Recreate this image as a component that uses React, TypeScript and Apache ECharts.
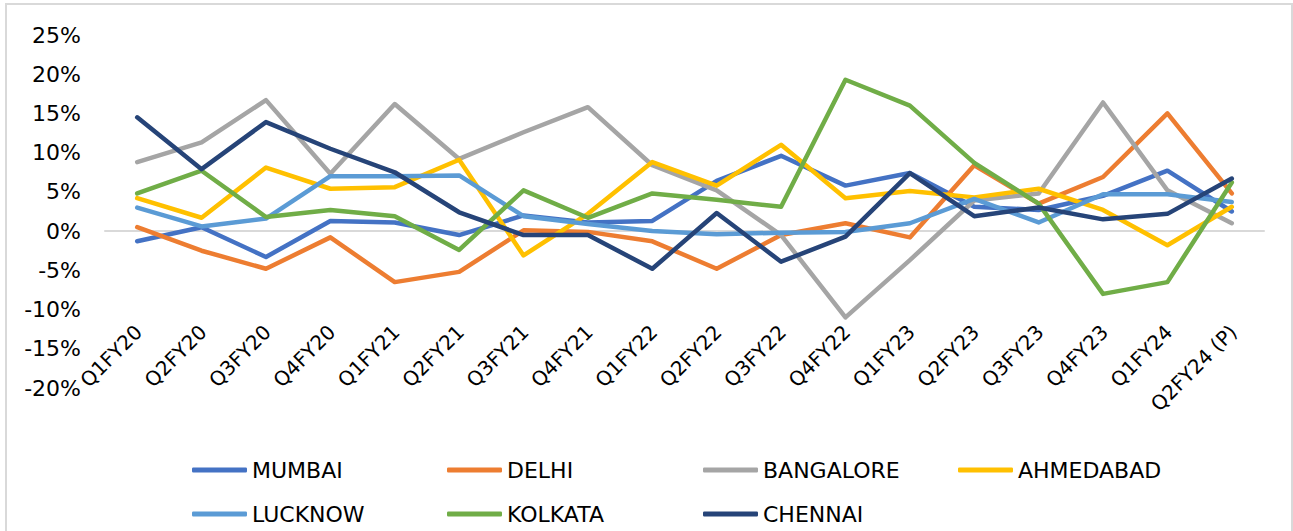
import React, { useEffect, useRef } from "react";
import * as echarts from "echarts";

const categories = [
  "Q1FY20", "Q2FY20", "Q3FY20", "Q4FY20", "Q1FY21", "Q2FY21", "Q3FY21", "Q4FY21", "Q1FY22",
  "Q2FY22", "Q3FY22", "Q4FY22", "Q1FY23", "Q2FY23", "Q3FY23", "Q4FY23", "Q1FY24", "Q2FY24 (P)",
];

const mumbai = [-1.3, 0.5, -3.3, 1.3, 1.1, -0.5, 2.0, 1.1, 1.3, 6.4, 9.6, 5.8, 7.4, 3.1, 2.7, 4.5, 7.7, 2.5];
const delhi = [0.5, -2.5, -4.8, -0.8, -6.5, -5.2, 0.1, -0.1, -1.3, -4.8, -0.5, 1.0, -0.8, 8.4, 3.5, 6.9, 15.0, 4.8];
const bangalore = [8.8, 11.3, 16.7, 7.3, 16.2, 9.2, 12.6, 15.8, 8.4, 5.2, -0.5, -11.0, -3.7, 3.9, 4.8, 16.4, 5.2, 1.0];
const ahmedabad = [4.2, 1.7, 8.1, 5.4, 5.6, 9.1, -3.1, 2.2, 8.8, 5.8, 11.0, 4.2, 5.1, 4.3, 5.4, 2.7, -1.8, 3.1];
const lucknow = [3.0, 0.6, 1.6, 7.0, 7.0, 7.1, 1.9, 0.9, 0.0, -0.4, -0.2, -0.1, 1.0, 4.1, 1.1, 4.7, 4.7, 3.7];
const kolkata = [4.8, 7.7, 1.8, 2.7, 1.9, -2.4, 5.2, 1.7, 4.8, 4.0, 3.1, 19.3, 16.0, 8.7, 3.5, -8.0, -6.5, 6.2];
const chennai = [14.5, 7.9, 13.9, 10.5, 7.5, 2.4, -0.5, -0.5, -4.8, 2.3, -3.9, -0.7, 7.4, 1.9, 3.0, 1.5, 2.2, 6.7];

const seriesNames = ["MUMBAI", "DELHI", "BANGALORE", "AHMEDABAD", "LUCKNOW", "KOLKATA", "CHENNAI"];
const seriesData = [mumbai, delhi, bangalore, ahmedabad, lucknow, kolkata, chennai];
const colors = ["#4472C4", "#ED7D31", "#A5A5A5", "#FFC000", "#5B9BD5", "#70AD47", "#264478"];

const legendPos = [
  [192, 459], [447, 459], [703, 459], [958, 459],
  [192, 503], [447, 503], [703, 503],
];

const FONT = "DejaVu Sans";

export default function App() {
  const ref = useRef<HTMLDivElement>(null);
  useEffect(() => {
    document.body.style.margin = "0";
    const chart = echarts.init(ref.current!, null, { renderer: "svg" });
    chart.setOption({
      animation: false,
      backgroundColor: "#fff",
      grid: { left: 105, right: 29, top: 35, bottom: 143, containLabel: false, outerBoundsMode: "none" },
      graphic: [
        {
          type: "rect",
          shape: { x: 6, y: 4, width: 1286, height: 540 },
          style: { fill: "none", stroke: "#d9d9d9", lineWidth: 2 },
          silent: true,
        },
      ],
      legend: seriesNames.map((n, i) => ({
        data: [n],
        left: legendPos[i][0],
        top: legendPos[i][1],
        padding: 0,
        itemWidth: 55,
        itemHeight: 5,
        icon: "roundRect",
        textStyle: { fontSize: 22, fontFamily: FONT, color: "#000" },
      })),
      xAxis: {
        type: "category",
        data: categories,
        boundaryGap: true,
        axisLine: { show: true, onZero: true, lineStyle: { color: "#d9d9d9", width: 2 } },
        axisTick: { show: false },
        axisLabel: {
          rotate: 45,
          margin: -58,
          interval: 0,
          fontSize: 20,
          fontFamily: FONT,
          color: "#000",
          padding: [0, -2, 0, 0],
        },
        splitLine: { show: false },
      },
      yAxis: {
        type: "value",
        min: -20,
        max: 25,
        interval: 5,
        axisLine: { show: false },
        axisTick: { show: false },
        splitLine: { show: false },
        axisLabel: {
          formatter: "{value}%",
          margin: 24,
          fontSize: 22,
          fontFamily: FONT,
          color: "#000",
        },
      },
      series: seriesNames.map((n, i) => ({
        name: n,
        type: "line",
        data: seriesData[i],
        symbol: "none",
        color: colors[i],
        lineStyle: { width: 4.5, color: colors[i], cap: "round", join: "round" },
      })),
    });
    return () => chart.dispose();
  }, []);
  return <div ref={ref} style={{ width: 1293, height: 531 }} />;
}
